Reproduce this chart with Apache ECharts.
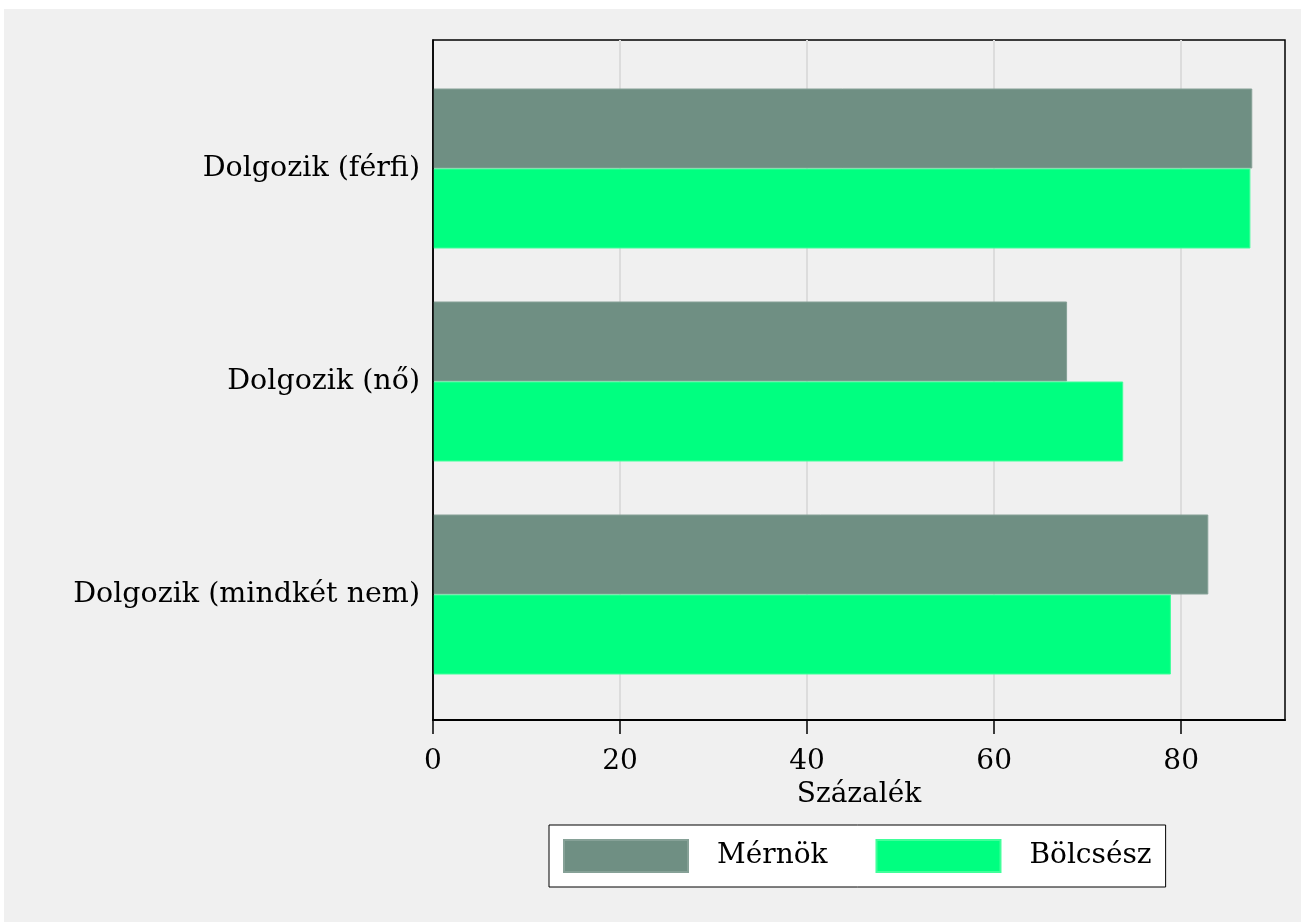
<!DOCTYPE html>
<html>
<head>
<meta charset="utf-8">
<script src="https://cdn.jsdelivr.net/npm/echarts@6/dist/echarts.min.js"></script>
<style>
  html, body { margin: 0; padding: 0; background: #ffffff; }
  #chart { position: absolute; left: 4px; top: 9px; width: 1297px; height: 913px; background: #f0f0f0; }
</style>
</head>
<body>
<div id="chart"></div>
<script>
const categories = ['Dolgozik (mindkét nem)', 'Dolgozik (nő)', 'Dolgozik (férfi)'];
const mernok = [82.9, 67.8, 87.6];
const bolcsesz = [78.9, 73.8, 87.4];
const xTicks = [0, 20, 40, 60, 80];

const font = "'DejaVu Serif', serif";
const chart = echarts.init(document.getElementById('chart'));

const option = {
  backgroundColor: '#f0f0f0',
  animation: false,
  textStyle: { fontFamily: font, color: '#000' },
  grid: [
    // frame + gridlines
    { left: 429, right: 16, top: 31, bottom: 202, show: true, borderColor: '#000', borderWidth: 1.5, backgroundColor: 'transparent' },
    // bars
    { left: 429, right: 16, top: 53, bottom: 221 }
  ],
  xAxis: [
    {
      gridIndex: 0, type: 'value', min: 0, max: 91.1, interval: 20,
      name: 'Százalék', nameLocation: 'middle', nameGap: 56,
      nameTextStyle: { fontSize: 28, fontFamily: font, color: '#000' },
      axisLine: { show: true, lineStyle: { color: '#000', width: 2 } },
      axisTick: { show: true, length: 14, customValues: xTicks, lineStyle: { color: '#000', width: 1.5 } },
      axisLabel: { fontSize: 28, margin: 28, color: '#000', fontFamily: font, customValues: xTicks },
      splitLine: { show: true, showMinLine: false, lineStyle: { color: '#dcdcdc', width: 2 } }
    },
    {
      gridIndex: 1, type: 'value', min: 0, max: 91.1,
      show: false
    }
  ],
  yAxis: [
    {
      gridIndex: 0, type: 'category', data: categories, z: 10,
      axisLine: { show: true, lineStyle: { color: '#000', width: 1.5 } },
      axisTick: { show: false }, axisLabel: { show: false }, splitLine: { show: false }
    },
    {
      gridIndex: 1, type: 'category', data: categories,
      axisLine: { show: false }, axisTick: { show: false },
      axisLabel: { fontSize: 28.5, margin: 13, color: '#000', fontFamily: font }
    }
  ],
  legend: {
    data: ['Mérnök', 'Bölcsész'],
    left: 545, top: 816,
    orient: 'horizontal',
    itemWidth: 124, itemHeight: 32, itemGap: 48,
    padding: [14, 14, 14, 14],
    backgroundColor: '#ffffff', borderColor: '#000', borderWidth: 1,
    icon: 'rect',
    textStyle: { fontSize: 28, fontFamily: font, color: '#000', padding: [0, 0, 0, 24] }
  },
  series: [
    {
      name: 'Mérnök', type: 'bar', xAxisIndex: 1, yAxisIndex: 1,
      data: mernok, barWidth: 80, barGap: '0%',
      itemStyle: { color: '#6f8f83', borderColor: '#86a197', borderWidth: 1 }
    },
    {
      name: 'Bölcsész', type: 'bar', xAxisIndex: 1, yAxisIndex: 1,
      data: bolcsesz, barWidth: 80, barGap: '0%',
      itemStyle: { color: '#00ff80', borderColor: '#40ff9a', borderWidth: 1 }
    }
  ]
};

chart.setOption(option);
window.addEventListener('resize', () => chart.resize());
</script>
</body>
</html>
